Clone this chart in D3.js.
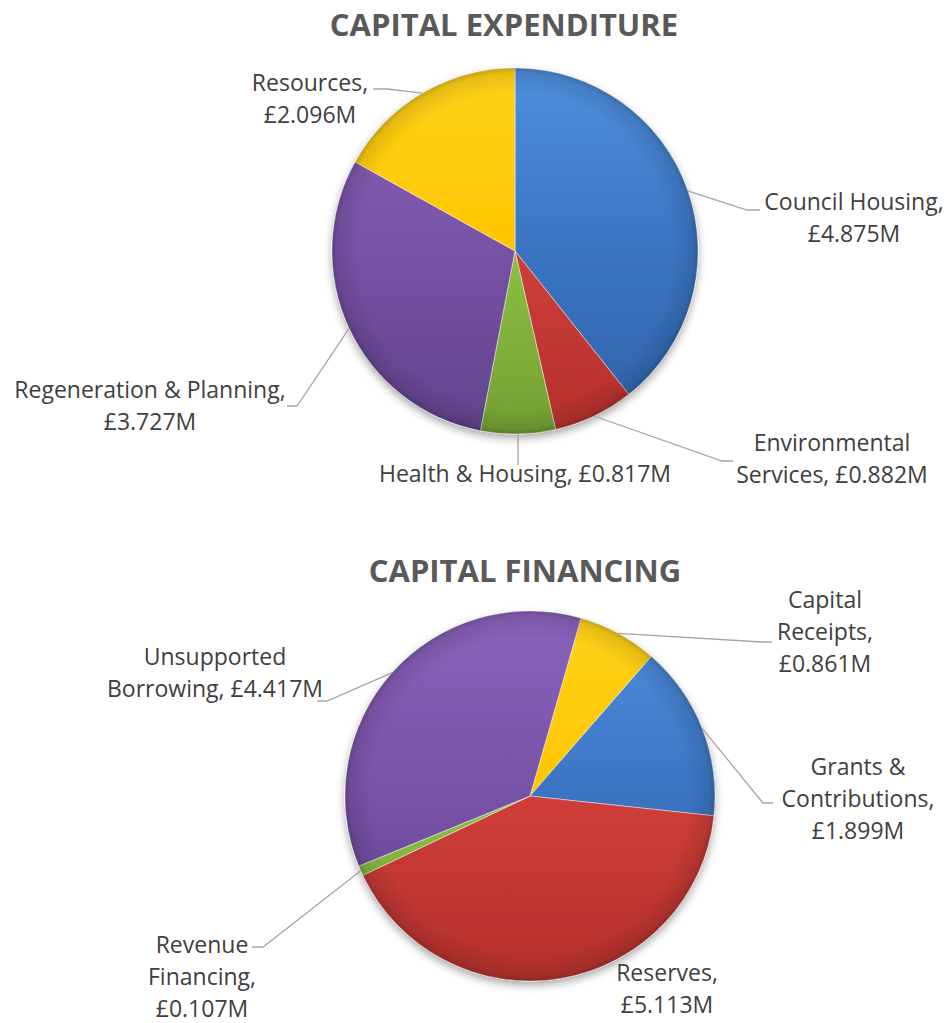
<!DOCTYPE html>
<html><head><meta charset="utf-8">
<script src="https://cdn.jsdelivr.net/npm/d3@7"></script>
<style>body{margin:0;background:#fff}svg{display:block}</style>
</head><body>
<svg id="c" width="947" height="1023"></svg>
<script>
// ---- data ----
const expTitle = "CAPITAL EXPENDITURE";
const expCategories = ["Council Housing", "Environmental Services", "Health & Housing", "Regeneration & Planning", "Resources"];
const expValues = [4.875, 0.882, 0.817, 3.727, 2.096];
const finTitle = "CAPITAL FINANCING";
const finCategories = ["Capital Receipts", "Grants & Contributions", "Reserves", "Revenue Financing", "Unsupported Borrowing"];
const finValues = [0.861, 1.899, 5.113, 0.107, 4.417];
const expColors = ["blue", "red", "green", "purple", "yellow"];
const finColors = ["yellow", "blue", "red", "green", "purple"];

// ---- styling / layout ----
const palette = {
  blue:   ["#4f8fdc", "#3b74c2", "#2f62a8"],
  red:    ["#e2514b", "#cf3e39", "#b3302c"],
  green:  ["#a3d45a", "#8cbf42", "#739f33"],
  purple: ["#8a63bb", "#7752a6", "#62428c"],
  yellow: ["#ffd21a", "#ffc600", "#f0b400"]
};
const fmt = v => "£" + d3.format(".3f")(v) + "M";
const LH = 32;
const FS = 23;
const charts = [
  { title: expTitle, cats: expCategories, vals: expValues, cols: expColors,
    cx: 515, cy: 251, r: 183, start: 0, titleX: 504, titleY: 36,
    labels: [
      { lines: d => ["Council Housing,", d], x: 854, y: 210, elbow: [747, 210], end: [760, 210] },
      { lines: d => ["Environmental", "Services, " + d], x: 832, y: 451, elbow: [722, 461], end: [733, 461] },
      { lines: d => ["Health & Housing, " + d], x: 525, y: 482, elbow: null, end: "down", endY: 465 },
      { lines: d => ["Regeneration & Planning,", d], x: 150, y: 398, elbow: [297, 406], end: [287, 406] },
      { lines: d => ["Resources,", d], x: 310, y: 91, elbow: [387, 89], end: [373, 89] }
    ] },
  { title: finTitle, cats: finCategories, vals: finValues, cols: finColors,
    cx: 530, cy: 796, r: 185, start: 16, titleX: 525, titleY: 582,
    labels: [
      { lines: d => ["Capital", "Receipts,", d], x: 825, y: 608, elbow: [762, 642], end: [772, 642] },
      { lines: d => ["Grants &", "Contributions,", d], x: 858, y: 775, elbow: [763, 803], end: [773, 803] },
      { lines: d => ["Reserves,", d], x: 667, y: 981, elbow: null, end: null },
      { lines: d => ["Revenue", "Financing,", d], x: 202, y: 953, elbow: [263, 947], end: [252, 947] },
      { lines: d => ["Unsupported", "Borrowing, " + d], x: 215, y: 665, elbow: [327, 701], end: [317, 701] }
    ] }
];

const svg = d3.select("#c");
const defs = svg.append("defs");
const f = defs.append("filter").attr("id", "shadow").attr("x", "-20%").attr("y", "-20%").attr("width", "140%").attr("height", "140%");
f.append("feDropShadow").attr("dx", 0).attr("dy", 4).attr("stdDeviation", 4).attr("flood-color", "#000").attr("flood-opacity", 0.35);

const rim = defs.append("radialGradient").attr("id", "rim").attr("cx", "50%").attr("cy", "50%").attr("r", "50%");
rim.append("stop").attr("offset", "0.86").attr("stop-color", "#000").attr("stop-opacity", 0);
rim.append("stop").attr("offset", "0.97").attr("stop-color", "#000").attr("stop-opacity", 0.10);
rim.append("stop").attr("offset", "1").attr("stop-color", "#000").attr("stop-opacity", 0.22);

charts.forEach((c, ci) => {
  svg.append("text").attr("x", c.titleX).attr("y", c.titleY)
    .attr("text-anchor", "middle").attr("font-family", "'Open Sans', sans-serif")
    .attr("font-weight", 700).attr("font-size", 31).attr("fill", "#595959").text(c.title);

  const data = c.cats.map((n, i) => ({ name: n, value: c.vals[i], color: c.cols[i], label: c.labels[i] }));
  const pie = d3.pie().sort(null).value(d => d.value)
    .startAngle(c.start * Math.PI / 180).endAngle((c.start + 360) * Math.PI / 180);
  const arcs = pie(data);
  const arc = d3.arc().innerRadius(0).outerRadius(c.r);

  const g = svg.append("g").attr("transform", `translate(${c.cx},${c.cy})`);
  const body = g.append("g").attr("filter", "url(#shadow)");
  arcs.forEach((a, i) => {
    const id = `sg-${ci}-${i}`;
    const p = palette[a.data.color];
    const lg = defs.append("linearGradient").attr("id", id).attr("gradientUnits", "userSpaceOnUse")
      .attr("x1", 0).attr("y1", -c.r).attr("x2", 0).attr("y2", c.r);
    lg.append("stop").attr("offset", 0).attr("stop-color", p[0]);
    lg.append("stop").attr("offset", 0.5).attr("stop-color", p[1]);
    lg.append("stop").attr("offset", 1).attr("stop-color", p[2]);
  });
  body.selectAll("path").data(arcs).join("path")
    .attr("d", arc)
    .attr("fill", (d, i) => `url(#sg-${ci}-${i})`)
    .attr("stroke", "rgba(255,255,255,0.45)").attr("stroke-width", 1);
  g.append("circle").attr("r", c.r).attr("fill", "url(#rim)").attr("pointer-events", "none");

  const lab = svg.append("g");
  arcs.forEach(a => {
    const L = a.data.label;
    const mid = (a.startAngle + a.endAngle) / 2;
    const sx = c.cx + c.r * Math.sin(mid), sy = c.cy - c.r * Math.cos(mid);
    if (L.end === "down") {
      lab.append("path").attr("d", `M${sx},${sy}L${sx},${L.endY}`)
        .attr("stroke", "#a6a6a6").attr("stroke-width", 1.3).attr("fill", "none");
    } else if (L.end) {
      lab.append("path").attr("d", `M${sx},${sy}L${L.elbow[0]},${L.elbow[1]}L${L.end[0]},${L.end[1]}`)
        .attr("stroke", "#a6a6a6").attr("stroke-width", 1.3).attr("fill", "none");
    }
    const t = lab.append("text").attr("text-anchor", "middle")
      .attr("font-family", "'Open Sans', sans-serif").attr("font-size", FS).attr("fill", "#404040");
    L.lines(fmt(a.data.value)).forEach((s, k) => {
      t.append("tspan").attr("x", L.x).attr("y", L.y + k * LH).text(s);
    });
  });
});
</script>
</body></html>
